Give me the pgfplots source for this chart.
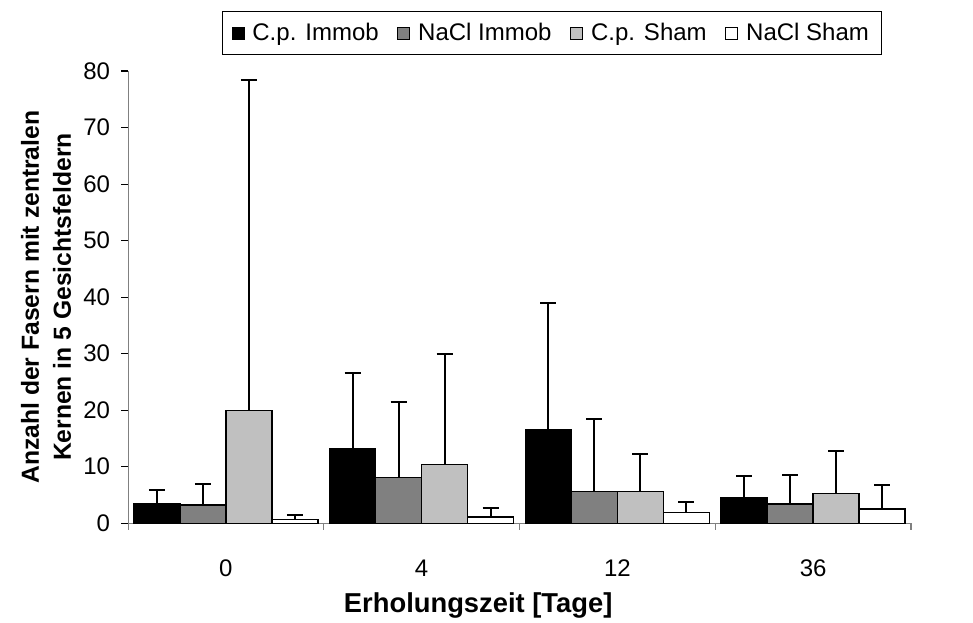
\documentclass[border=0pt]{standalone}
\usepackage{fontspec}
\setmainfont{Liberation Sans}
\usepackage{pgfplots}
\pgfplotsset{compat=1.18}
\definecolor{dkgray}{HTML}{808080}
\definecolor{ltgray}{HTML}{C0C0C0}

% Mittelwert und Fehler (nach oben)
\pgfplotstableread{
x  cpi  cpie  nai  naie  cps  cpse  nas  nase
0  3.4  2.5   3.2  3.8   19.9 58.6  0.7  0.7
1  13.1 13.4  8.1  13.4  10.4 19.6  1.1  1.5
2  16.6 22.4  5.6  12.9  5.6  6.7   1.9  1.9
3  4.6  3.7   3.4  5.2   5.3  7.5   2.5  4.2
}\datatable

\begin{document}
\begin{tikzpicture}
\begin{axis}[
  name=ax,
  scale only axis,
  width=587pt, height=339pt,
  ybar=0pt, bar width=0.235,
  xmin=-0.5, xmax=3.5,
  ymin=0, ymax=80, ytick distance=10,
  xtick={-0.5,0.5,1.5,2.5,3.5}, xticklabels={},
  xtick style={dkgray, line width=0.8pt},
  extra x ticks={0,1,2,3}, extra x tick labels={0,4,12,36},
  extra x tick style={major tick length=0pt},
  major tick length=5pt,
  ytick style={line width=0.8pt, black},
  axis x line*=bottom, axis y line*=left,
  axis line style={-, dkgray, line width=0.8pt},
  tick align=outside,
  tick label style={font=\fontsize{18}{21}\selectfont},
  xticklabel style={yshift=-24pt},
  yticklabel style={xshift=-5pt},
  /pgf/number format/assume math mode=true,
  xlabel={\bfseries Erholungszeit [Tage]},
  ylabel={\bfseries Anzahl der Fasern mit zentralen\\\bfseries Kernen in 5 Gesichtsfeldern},
  label style={font=\fontsize{18.5}{24}\selectfont, align=center},
  xlabel style={font=\fontsize{20.5}{24}\selectfont, at={(axis description cs:0.5,0)}, anchor=center, xshift=-31pt, yshift=-61.5pt},
  ylabel style={at={(axis description cs:0,0.5)}, anchor=center, yshift=61.5pt},
  legend style={at={(0.541,1.035)}, anchor=south, legend columns=-1,
    draw=black, line width=0.6pt, font=\fontsize{18}{21}\selectfont,
    /tikz/every odd column/.append style={column sep=4pt},
    /tikz/every even column/.append style={column sep=12pt},
    inner xsep=7pt, inner ysep=7pt},
  legend image code/.code={\draw[#1,line width=0.6pt] (0pt,-4.5pt) rectangle (9pt,4.5pt);},
  error bars/y dir=plus, error bars/y explicit,
  error bars/error bar style={line width=1.5pt, black},
  error bars/error mark options={rotate=90, mark size=6pt, line width=1.5pt, black},
]
\addplot[fill=black, draw=black, line width=1pt, bar shift=-0.3525]
  table[x=x, y=cpi, y error=cpie] {\datatable};
\addplot[fill=dkgray, draw=black, line width=1pt, bar shift=-0.1175]
  table[x=x, y=nai, y error=naie] {\datatable};
\addplot[fill=ltgray, draw=black, line width=1pt, bar shift=0.1175]
  table[x=x, y=cps, y error=cpse] {\datatable};
\addplot[fill=white, draw=black, line width=1pt, bar shift=0.3525]
  table[x=x, y=nas, y error=nase] {\datatable};
\legend{C.p. Immob, NaCl Immob, C.p. Sham, NaCl Sham}
\end{axis}
\path ([xshift=-96pt, yshift=-72.75pt]ax.south west) rectangle ([xshift=46.5pt, yshift=53.25pt]ax.north east);
\end{tikzpicture}
\end{document}
